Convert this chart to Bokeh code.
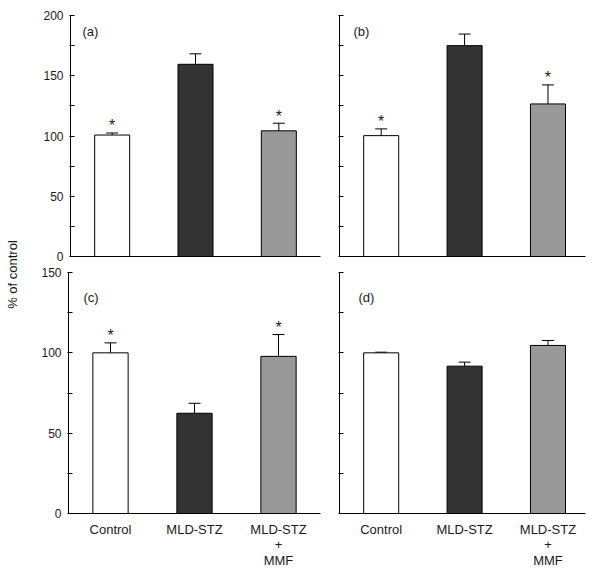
import math
from bokeh.plotting import figure
from bokeh.layouts import row, column
from bokeh.models import ColumnDataSource, FixedTicker, Whisker, TeeHead, Label, Range1d
from bokeh.embed import file_html
from bokeh.resources import INLINE
from bokeh.core.properties import value

# ---------------- data ----------------
groups = ["Control", "MLD-STZ", "MLD-STZ\n+\nMMF"]
bar_colors = ["#ffffff", "#333333", "#999999"]

means_a = [100.8, 159.5, 104.3]
errs_a = [1.7, 8.7, 6.3]
stars_a = ["*", "", "*"]

means_b = [100.3, 175.0, 126.6]
errs_b = [5.6, 9.6, 15.8]
stars_b = ["*", "", "*"]

means_c = [100.0, 62.4, 97.8]
errs_c = [6.2, 6.2, 13.6]
stars_c = ["*", "", "*"]

means_d = [100.0, 91.7, 104.6]
errs_d = [0.4, 2.5, 3.1]
stars_d = ["", "", ""]

panel_labels = ["(a)", "(b)", "(c)", "(d)"]
y_label = "% of control"

yticks_top = [0, 50, 100, 150, 200]
yminor_top = [25, 75, 125, 175]
yticks_bot = [0, 50, 100, 150]
yminor_bot = [25, 75, 125]

FONT = "Liberation Sans"
TXT = "#1a1a1a"


def make_panel(means, errs, stars, plabel, ymax, majors, minors, xend,
               ylabels, xlabels, frame_w, frame_h, borders, lab_off):
    bl, br, bt, bb = borders
    p = figure(frame_width=frame_w, frame_height=frame_h,
               x_range=Range1d(0, xend), y_range=Range1d(0, ymax),
               min_border_left=bl, min_border_right=br,
               min_border_top=bt, min_border_bottom=bb,
               toolbar_location=None, output_backend="svg",
               outline_line_color=None, background_fill_color="white",
               border_fill_color="white")
    p.grid.visible = False

    px_per_x = frame_w / xend
    px_per_y = frame_h / ymax

    xs = [i + 0.5 for i in range(len(means))]
    uppers = [m + e for m, e in zip(means, errs)]
    src = ColumnDataSource(dict(
        x=xs, top=means, upper=uppers,
        star_y=[u + 7 / px_per_y for u in uppers],
        color=bar_colors, star=stars))

    p.vbar(x="x", top="top", bottom=0, width=0.42, source=src,
           fill_color="color", line_color="black", line_width=1)

    w = Whisker(source=src, base="x", upper="upper", lower="top",
                dimension="height", line_color="black", line_width=1,
                upper_head=TeeHead(size=12, line_color="black", line_width=1),
                lower_head=None)
    p.add_layout(w)

    p.text(x="x", y="star_y", text="star", source=src,
           text_align="center", text_baseline="alphabetic",
           text_font=value(FONT), text_font_size="16px", text_color=TXT)

    # panel label
    p.add_layout(Label(x=lab_off[0] / px_per_x, y=ymax - lab_off[1] / px_per_y,
                       text=plabel, text_font=FONT, text_font_size="13px",
                       text_color=TXT, text_align="left",
                       text_baseline="middle"))

    # y axis
    ya = p.yaxis[0]
    ya.ticker = FixedTicker(ticks=majors, minor_ticks=minors)
    ya.axis_line_color = "black"
    ya.major_tick_line_color = "black"
    ya.minor_tick_line_color = "black"
    ya.major_tick_in = 4
    ya.major_tick_out = 1
    ya.minor_tick_in = 4
    ya.minor_tick_out = 1
    ya.major_label_standoff = 6
    ya.major_label_text_font = FONT
    ya.major_label_text_font_size = "12px"
    ya.major_label_text_color = TXT
    if not ylabels:
        ya.major_label_overrides = {t: "" for t in majors}
        ya.major_label_standoff = 0

    # x axis
    xa = p.xaxis[0]
    xa.ticker = FixedTicker(ticks=xs, minor_ticks=[])
    xa.axis_line_color = "black"
    xa.major_tick_line_color = None
    xa.minor_tick_line_color = None
    xa.major_tick_in = 0
    xa.major_tick_out = 0
    xa.major_label_text_font = FONT
    xa.major_label_text_font_size = "13px"
    xa.major_label_text_color = TXT
    xa.major_label_text_line_height = 1.05
    if xlabels:
        xa.major_label_overrides = {x: g for x, g in zip(xs, groups)}
        xa.major_label_standoff = 8
    else:
        xa.major_label_overrides = {x: "" for x in xs}
        xa.major_label_standoff = 0
    return p


pa = make_panel(means_a, errs_a, stars_a, panel_labels[0], 200, yticks_top, yminor_top,
                3.0, True, False, 250, 241, (42, 5, 15, 8), (12, 16))
pb = make_panel(means_b, errs_b, stars_b, panel_labels[1], 200, yticks_top, yminor_top,
                2.95, False, False, 246, 241, (14, 5, 15, 8), (14, 16))
pc = make_panel(means_c, errs_c, stars_c, panel_labels[2], 150, yticks_bot, yminor_bot,
                3.0, True, True, 252, 241, (40, 5, 8, 55), (15, 25))
pd = make_panel(means_d, errs_d, stars_d, panel_labels[3], 150, yticks_bot, yminor_bot,
                2.95, False, True, 246, 241, (14, 5, 8, 55), (19, 25))

# y label strip
LAB_H = 568
lab = figure(width=28, height=LAB_H, x_range=Range1d(0, 28), y_range=Range1d(0, LAB_H),
             min_border=0, x_axis_location=None, y_axis_location=None,
             toolbar_location=None, output_backend="svg",
             outline_line_color=None, border_fill_color="white")
lab.grid.visible = False
lab.text(x=[4], y=[LAB_H - 274], text=[y_label], angle=math.pi / 2,
         text_align="center", text_baseline="top",
         text_font=value(FONT), text_font_size="13px", text_color=TXT)

layout = row(lab, column(row(pa, pb), row(pc, pd)))

open("out.html", "w").write(file_html(layout, INLINE))
